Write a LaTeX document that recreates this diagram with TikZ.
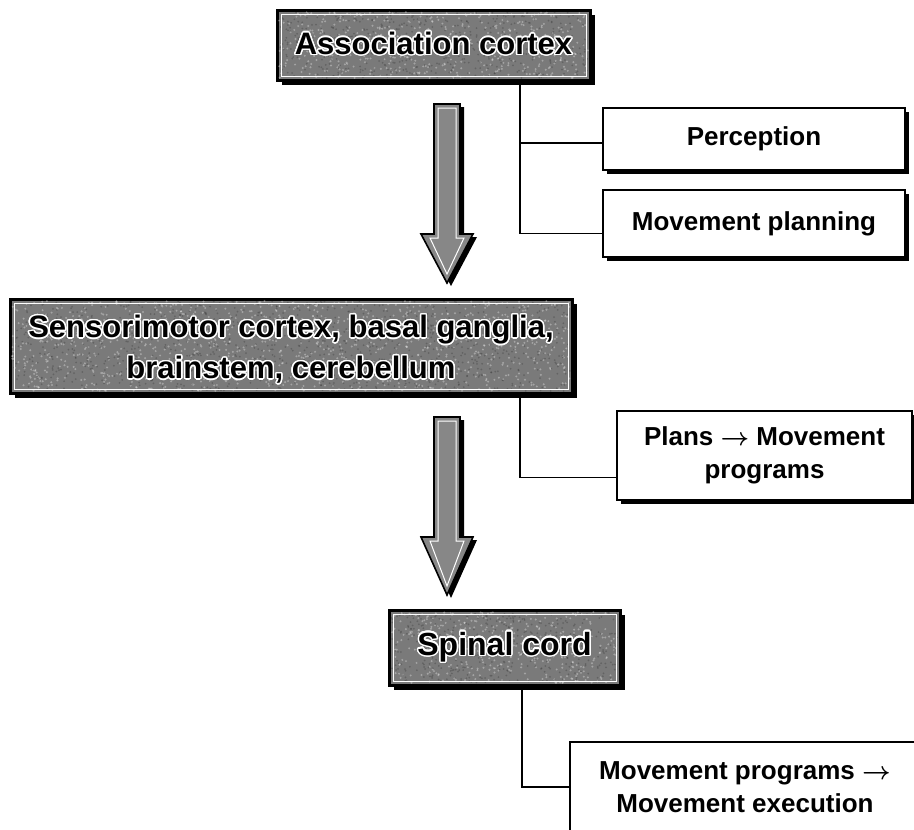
\documentclass[tikz,border=0pt]{standalone}
\usepackage{amsmath}
\usepackage{fontspec}
\setmainfont{Liberation Sans}
\usepackage{contour}
\contourlength{1.4pt}
\contournumber{24}
\usetikzlibrary{shadows,calc}
\definecolor{boxgray}{RGB}{122,122,122}
\definecolor{arrowgray}{RGB}{135,135,135}
\newcommand\speckle[5]{%
  \foreach \i in {1,...,#5}{%
    \fill[white,opacity=.32] ({#1+rnd*(#3-#1)},{#2+rnd*(#4-#2)}) circle (1.1);
    \fill[black,opacity=.18] ({#1+rnd*(#3-#1)},{#2+rnd*(#4-#2)}) circle (1.0);
  }}
\tikzset{
  every node/.style={inner sep=0pt, outer sep=0pt},
  graybox/.style={draw=black, line width=3pt, fill=boxgray,
     general shadow={fill=black, shadow xshift=5pt, shadow yshift=-5pt}},
  grayinner/.style={draw=white, line width=1pt},
  graytext/.style={font=\bfseries\fontsize{31}{41}\selectfont, align=center},
  whitebox/.style={draw=black, line width=2.5pt, fill=white,
     general shadow={fill=black, shadow xshift=4pt, shadow yshift=-4pt},
     font=\bfseries\fontsize{26}{33}\selectfont, align=center},
  link/.style={line width=1.6pt},
  pics/fatarrow/.style 2 args={code={
    \fill[black, shift={(4,3)}] (-13,0) -- (13,0) -- (13,#1) -- (26,#1) -- (0,#1+#2) -- (-26,#1) -- (-13,#1) -- cycle;
    \filldraw[fill=arrowgray, draw=black, line width=1.6pt, line join=miter]
      (-13,0) -- (13,0) -- (13,#1) -- (26,#1) -- (0,#1+#2) -- (-26,#1) -- (-13,#1) -- cycle;
    \draw[white, line width=1pt]
      (-9,4) -- (9,4) -- (9,#1+4) -- (17,#1+4) -- (0,#1+#2-9) -- (-17,#1+4) -- (-9,#1+4) -- cycle;
  }}
}
\begin{document}
\begin{tikzpicture}[x=1pt, y=-1pt]
\path[use as bounding box, clip] (0,0) rectangle (914,830);
\fill[white] (0,0) rectangle (914,830);
\pgfmathsetseed{7}

% white boxes
\node[whitebox, minimum width=302pt, minimum height=62pt] (perc) at (754,139) {Perception};
\node[whitebox, minimum width=302pt, minimum height=67pt] (plan) at (754,223.5) {Movement planning};
\node[whitebox, minimum width=295pt, minimum height=89pt] (prog) at (764.5,455.5) {Plans $\boldsymbol{\rightarrow}$ Movement\\programs};
\node[whitebox, minimum width=350pt, minimum height=90pt] (exec) at (745,787) {Movement programs $\boldsymbol{\rightarrow}$\\Movement execution};

% gray boxes
\node[graybox, minimum width=313pt, minimum height=70pt] (assoc) at (433.5,45) {};
\node[graybox, minimum width=562pt, minimum height=94pt] (sens) at (291,346) {};
\node[graybox, minimum width=231pt, minimum height=75pt] (spinal) at (504.5,647.5) {};
\speckle{279}{12}{588}{78}{500}
\speckle{12}{301}{570}{391}{1100}
\speckle{391}{612}{618}{683}{380}
\foreach \b in {assoc,sens,spinal}
  \draw[grayinner] ([shift={(4,4)}]\b.north west) rectangle ([shift={(-4,-4)}]\b.south east);
\node[graytext] (assocT) at (433.5,44) {\contour{white}{Association cortex}};
\node[graytext] (sensT) at (291,350) {\contour{white}{Sensorimotor cortex, basal ganglia,}\\\contour{white}{brainstem, cerebellum}};
\node[graytext, font=\bfseries\fontsize{32}{40}\selectfont] (spinalT) at (spinal) {\contour{white}{Spinal cord}};

% connectors
\coordinate (j) at (520,0);
\coordinate (k) at (522,0);
\draw[link] (assoc.south -| j) |- ([shift={(0,4)}]perc.west);
\draw[link] (assoc.south -| j) |- ([shift={(0,10)}]plan.west);
\draw[link] ([yshift=-2pt]sens.south -| j) |- ([shift={(0,22)}]prog.west);
\draw[link] ([yshift=-2pt]spinal.south -| k) |- (exec.west);

% big arrows
\pic at (447,104) {fatarrow={130}{49}};
\pic at (447,417) {fatarrow={120}{58}};
\end{tikzpicture}
\end{document}
